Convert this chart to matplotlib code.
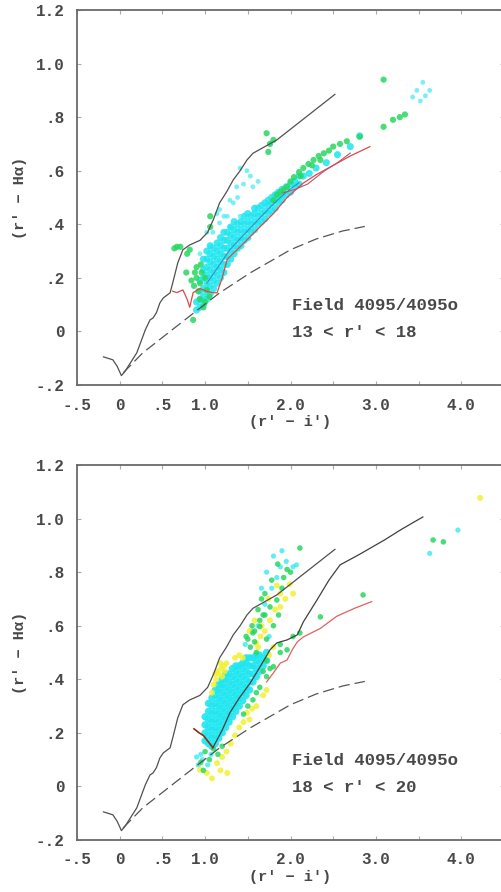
import matplotlib
matplotlib.use("Agg")
import matplotlib.pyplot as plt

plt.rcParams['font.family'] = ['Liberation Mono', 'DejaVu Sans Mono']

# ---------------- data ----------------
x_ticks = [-0.5, 0.0, 0.5, 1.0, 1.5, 2.0, 2.5, 3.0, 3.5, 4.0, 4.5]
x_tick_labels = ['-.5', '0', '.5', '1.0', '', '2.0', '', '3.0', '', '4.0', '']
y_ticks = [-0.2, 0.0, 0.2, 0.4, 0.6, 0.8, 1.0, 1.2]
y_tick_labels = ['-.2', '0', '.2', '.4', '.6', '.8', '1.0', '1.2']

# upper black locus (both panels)
black1_x = [-0.19, -0.15, -0.08, -0.03, 0.02, 0.06, 0.12, 0.20, 0.30, 0.355, 0.39, 0.43, 0.47, 0.51, 0.59,
            0.62, 0.68, 0.74, 0.82, 0.94, 1.03, 1.10, 1.17, 1.25, 1.33, 1.41, 1.49, 1.56, 1.70, 1.84,
            2.10, 2.30, 2.52]
black1_y = [-0.095, -0.099, -0.106, -0.13, -0.165, -0.15, -0.12, -0.08, 0.006, 0.043, 0.05, 0.07, 0.106,
            0.125, 0.144, 0.18, 0.256, 0.305, 0.323, 0.34, 0.37, 0.42, 0.48, 0.52, 0.566, 0.60, 0.64,
            0.665, 0.69, 0.715, 0.78, 0.83, 0.885]

# dashed reddening line (both panels)
dash_x = [0.04, 0.27, 0.55, 0.79, 1.17, 1.53, 2.00, 2.30, 2.61, 2.87]
dash_y = [-0.155, -0.08, -0.01, 0.05, 0.144, 0.219, 0.305, 0.345, 0.375, 0.392]

# top panel lines
red1_top_x = [0.62, 0.67, 0.74, 0.79, 0.82, 0.86, 0.94, 1.02, 1.08, 1.14, 1.20, 1.26, 1.41, 1.61, 1.80,
              1.96, 2.15, 2.30, 2.50, 2.70, 2.93]
red1_top_y = [0.15, 0.145, 0.155, 0.12, 0.09, 0.145, 0.16, 0.15, 0.145, 0.144, 0.20, 0.27, 0.316, 0.38,
              0.44, 0.50, 0.554, 0.585, 0.62, 0.655, 0.69]
red2_top_x = [1.91, 2.05, 2.20, 2.40, 2.55, 2.70]
red2_top_y = [0.517, 0.53, 0.55, 0.60, 0.63, 0.666]
blue_top_x = [1.02, 1.15, 1.29, 1.45, 1.60, 1.75, 1.88, 1.99, 2.10]
blue_top_y = [0.18, 0.24, 0.305, 0.36, 0.41, 0.46, 0.50, 0.53, 0.555]

# bottom panel lines
black2_x = [1.09, 1.20, 1.29, 1.40, 1.53, 1.65, 1.76, 1.84, 1.96, 2.08, 2.15, 2.23, 2.31, 2.45, 2.58,
            2.80, 3.10, 3.30, 3.55]
black2_y = [0.144, 0.21, 0.275, 0.33, 0.387, 0.45, 0.51, 0.536, 0.547, 0.566, 0.614, 0.655, 0.696, 0.77,
            0.827, 0.865, 0.92, 0.96, 1.006]
red_bot_x = [1.72, 1.80, 1.88, 1.96, 2.02, 2.08, 2.15, 2.35, 2.54, 2.75, 2.95]
red_bot_y = [0.39, 0.424, 0.46, 0.472, 0.51, 0.54, 0.558, 0.59, 0.635, 0.665, 0.69]
brown_bot_x = [0.87, 0.93, 0.98, 1.03, 1.09]
brown_bot_y = [0.215, 0.20, 0.19, 0.17, 0.145]

# top panel points: dense cyan band (column by column)
cyan_top_x = [0.90, 0.90,
              0.94, 0.94, 0.94, 0.94,
              0.98, 0.98, 0.98, 0.98, 0.98, 0.98,
              1.02, 1.02, 1.02, 1.02, 1.02, 1.02, 1.02,
              1.06, 1.06, 1.06, 1.06, 1.06, 1.06, 1.06,
              1.10, 1.10, 1.10, 1.10, 1.10, 1.10,
              1.14, 1.14, 1.14, 1.14, 1.14, 1.14,
              1.18, 1.18, 1.18, 1.18, 1.18, 1.18,
              1.22, 1.22, 1.22, 1.22, 1.22, 1.22,
              1.26, 1.26, 1.26, 1.26, 1.26,
              1.30, 1.30, 1.30, 1.30, 1.30,
              1.34, 1.34, 1.34, 1.34, 1.34,
              1.38, 1.38, 1.38, 1.38,
              1.42, 1.42, 1.42, 1.42,
              1.46, 1.46, 1.46, 1.46,
              1.50, 1.50, 1.50, 1.50,
              1.54, 1.54, 1.54,
              1.58, 1.58, 1.58, 1.58,
              1.62, 1.62, 1.62,
              1.66, 1.66, 1.66,
              1.70, 1.70, 1.70,
              1.74, 1.74, 1.74,
              1.78, 1.78, 1.78,
              1.82, 1.82, 1.82,
              1.86, 1.86, 1.86,
              1.90, 1.90, 1.90,
              1.95, 1.95, 2.00, 2.00, 2.05, 2.05, 2.10, 2.10,
              2.15, 2.22, 2.30, 2.42, 2.55, 2.70, 2.81]
cyan_top_y = [0.08, 0.11,
              0.09, 0.12, 0.15, 0.19,
              0.10, 0.13, 0.16, 0.20, 0.23, 0.27,
              0.12, 0.15, 0.18, 0.21, 0.24, 0.27, 0.30,
              0.14, 0.17, 0.20, 0.23, 0.26, 0.29, 0.32,
              0.16, 0.19, 0.22, 0.25, 0.28, 0.31,
              0.18, 0.21, 0.24, 0.27, 0.30, 0.33,
              0.20, 0.23, 0.26, 0.29, 0.32, 0.35,
              0.22, 0.25, 0.28, 0.31, 0.34, 0.37,
              0.25, 0.28, 0.31, 0.34, 0.37,
              0.27, 0.30, 0.33, 0.36, 0.39,
              0.29, 0.32, 0.35, 0.38, 0.41,
              0.31, 0.34, 0.37, 0.40,
              0.32, 0.35, 0.38, 0.41,
              0.34, 0.37, 0.40, 0.43,
              0.35, 0.38, 0.41, 0.44,
              0.37, 0.40, 0.43,
              0.38, 0.41, 0.44, 0.46,
              0.40, 0.43, 0.46,
              0.41, 0.44, 0.47,
              0.42, 0.45, 0.48,
              0.44, 0.47, 0.49,
              0.45, 0.48, 0.50,
              0.46, 0.49, 0.51,
              0.48, 0.50, 0.52,
              0.49, 0.51, 0.53,
              0.51, 0.54, 0.52, 0.55, 0.54, 0.56, 0.55, 0.58,
              0.58, 0.59, 0.61, 0.63, 0.66, 0.69, 0.73]
# top panel: scattered cyan points
cyan_top_sparse_x = [1.41, 1.49, 1.53, 1.56, 1.37, 1.45, 1.29, 1.33, 1.26, 1.17, 1.17, 1.09, 1.41, 1.29,
                     1.06, 1.02, 0.94, 1.76, 1.22, 1.38, 1.62, 1.14, 3.48, 3.55, 3.63, 3.52, 3.43, 3.58]
cyan_top_sparse_y = [0.61, 0.60, 0.58, 0.54, 0.54, 0.55, 0.49, 0.48, 0.43, 0.405, 0.455, 0.37, 0.43, 0.39,
                     0.316, 0.37, 0.29, 0.70, 0.43, 0.50, 0.56, 0.44, 0.90, 0.93, 0.90, 0.86, 0.875, 0.88]
green_top_x = [3.09, 3.09, 3.20, 3.28, 3.34, 2.81, 2.66, 2.58, 2.50, 2.45, 2.39, 2.33, 2.27, 2.21, 2.15,
               2.10, 2.04, 2.00, 1.96, 1.92, 1.88, 1.84, 1.80, 2.25, 2.12, 2.35, 1.76, 1.72, 1.80, 1.74,
               1.06, 0.71, 0.79, 0.64, 0.82, 0.67, 0.90, 0.94, 0.87, 1.02, 0.94, 0.98, 0.86, 0.90, 0.96,
               1.00, 0.92, 0.88, 1.05, 1.00, 0.84, 0.95, 1.06, 0.78]
green_top_y = [0.94, 0.764, 0.79, 0.80, 0.81, 0.727, 0.71, 0.70, 0.69, 0.675, 0.665, 0.655, 0.64, 0.625,
               0.61, 0.595, 0.576, 0.56, 0.54, 0.53, 0.52, 0.51, 0.49, 0.62, 0.58, 0.64, 0.70, 0.74, 0.715,
               0.67, 0.43, 0.316, 0.29, 0.31, 0.305, 0.316, 0.24, 0.18, 0.17, 0.155, 0.12, 0.09, 0.043,
               0.20, 0.22, 0.20, 0.15, 0.22, 0.13, 0.11, 0.19, 0.25, 0.39, 0.22]

# bottom panel points
cyan_bot_x = [1.00, 1.00, 1.00, 1.00,
              1.04, 1.04, 1.04, 1.04, 1.04, 1.04,
              1.08, 1.08, 1.08, 1.08, 1.08, 1.08, 1.08,
              1.12, 1.12, 1.12, 1.12, 1.12, 1.12, 1.12, 1.12,
              1.16, 1.16, 1.16, 1.16, 1.16, 1.16, 1.16, 1.16,
              1.20, 1.20, 1.20, 1.20, 1.20, 1.20, 1.20, 1.20,
              1.24, 1.24, 1.24, 1.24, 1.24, 1.24, 1.24, 1.24,
              1.28, 1.28, 1.28, 1.28, 1.28, 1.28, 1.28,
              1.32, 1.32, 1.32, 1.32, 1.32, 1.32, 1.32,
              1.36, 1.36, 1.36, 1.36, 1.36, 1.36, 1.36,
              1.40, 1.40, 1.40, 1.40, 1.40, 1.40,
              1.44, 1.44, 1.44, 1.44, 1.44, 1.44,
              1.48, 1.48, 1.48, 1.48, 1.48, 1.48,
              1.52, 1.52, 1.52, 1.52, 1.52,
              1.56, 1.56, 1.56, 1.56,
              1.60, 1.60, 1.60, 1.60,
              1.64, 1.64, 1.64,
              1.68, 1.68, 1.72, 1.72]
cyan_bot_y = [0.17, 0.20, 0.23, 0.26,
              0.16, 0.19, 0.22, 0.25, 0.28, 0.31,
              0.15, 0.18, 0.21, 0.24, 0.27, 0.30, 0.33,
              0.16, 0.19, 0.22, 0.25, 0.28, 0.31, 0.34, 0.36,
              0.18, 0.21, 0.24, 0.27, 0.30, 0.33, 0.36, 0.38,
              0.20, 0.23, 0.26, 0.29, 0.32, 0.35, 0.38, 0.40,
              0.22, 0.25, 0.28, 0.31, 0.34, 0.37, 0.40, 0.42,
              0.24, 0.27, 0.30, 0.33, 0.36, 0.39, 0.42,
              0.26, 0.29, 0.32, 0.35, 0.38, 0.41, 0.44,
              0.28, 0.31, 0.34, 0.37, 0.40, 0.43, 0.45,
              0.30, 0.33, 0.36, 0.39, 0.42, 0.45,
              0.32, 0.35, 0.38, 0.41, 0.44, 0.46,
              0.34, 0.37, 0.40, 0.43, 0.46, 0.48,
              0.36, 0.39, 0.42, 0.45, 0.48,
              0.39, 0.42, 0.45, 0.48,
              0.41, 0.44, 0.47, 0.49,
              0.43, 0.46, 0.49,
              0.45, 0.48, 0.47, 0.50]
cyan_bot_sparse_x = [0.95, 0.92, 0.97, 1.03, 0.90, 1.07, 1.70, 1.78, 1.84, 2.07, 1.95, 1.62, 1.55, 1.47,
                     3.63, 3.96, 1.75, 1.88, 1.80, 1.90, 1.72, 1.66, 2.03]
cyan_bot_sparse_y = [0.12, 0.08, 0.10, 0.08, 0.11, 0.12, 0.68, 0.74, 0.78, 0.827, 0.84, 0.60, 0.58, 0.53,
                     0.87, 0.957, 0.56, 0.82, 0.86, 0.88, 0.80, 0.74, 0.82]
yellow_bot_x = [1.10, 1.13, 1.16, 1.19, 1.22, 1.25, 1.14, 1.18, 1.08, 1.12, 1.44, 1.40, 1.35, 1.20, 1.23,
                1.49, 1.60, 1.55, 1.52, 1.45, 1.40, 1.35, 1.30, 1.25, 1.20,
                0.94, 1.14, 1.02, 1.26, 1.08, 1.18, 1.88, 1.99, 1.76, 1.60, 1.88,
                2.03, 1.70, 1.82, 1.65, 1.94, 1.80, 1.75, 4.22, 1.72, 1.68,
                1.58, 1.66, 1.74, 1.84, 1.52, 1.62]
yellow_bot_y = [0.38, 0.40, 0.42, 0.44, 0.45, 0.46, 0.43, 0.46, 0.35, 0.42, 0.48, 0.49, 0.48, 0.41, 0.43,
                0.275, 0.30, 0.29, 0.25, 0.24, 0.22, 0.19, 0.16, 0.13, 0.11,
                0.062, 0.087, 0.05, 0.05, 0.03, 0.06, 0.72, 0.755, 0.62, 0.535, 0.67,
                0.72, 0.58, 0.66, 0.56, 0.70, 0.52, 0.49, 1.077, 0.36, 0.34,
                0.62, 0.60, 0.70, 0.75, 0.58, 0.52]
green_bot_x = [1.64, 1.68, 1.76, 1.84, 1.90, 1.96, 2.11, 1.64, 1.56, 1.53, 1.80, 1.88, 2.03, 2.11, 1.72,
               1.64, 1.56, 1.88, 1.96, 1.68, 1.76, 1.60, 1.50, 1.45, 1.72, 1.80, 1.86, 1.72, 1.60, 1.48,
               1.58, 2.85, 2.35, 3.67, 3.79, 0.95, 1.00, 1.05, 0.98, 1.10, 1.20, 1.15, 1.92, 2.00,
               1.50, 1.55, 1.62, 1.70, 1.78, 1.85, 1.70, 1.58, 1.66]
green_bot_y = [0.62, 0.64, 0.67, 0.696, 0.74, 0.81, 0.89, 0.597, 0.573, 0.52, 0.447, 0.50, 0.56, 0.573,
               0.41, 0.37, 0.323, 0.53, 0.51, 0.43, 0.44, 0.35, 0.30, 0.27, 0.47, 0.60, 0.64, 0.55, 0.50,
               0.56, 0.58, 0.715, 0.633, 0.92, 0.913, 0.09, 0.13, 0.10, 0.06, 0.14, 0.15, 0.12, 0.78, 0.80,
               0.55, 0.60, 0.66, 0.72, 0.77, 0.83, 0.64, 0.54, 0.70]

panel_labels = [("Field 4095/4095o", "13 < r' < 18"), ("Field 4095/4095o", "18 < r' < 20")]

# ---------------- figure ----------------
fig = plt.figure(figsize=(5.02, 8.92), dpi=100)
W, H = 502.0, 892.0
ax_top = fig.add_axes([77 / W, 1 - 385 / H, 427 / W, 375 / H])
ax_bot = fig.add_axes([77 / W, 1 - 840 / H, 427 / W, 375 / H])

CYAN = '#1ee6f0'
GREEN = '#28d860'
YELLOW = '#f2f030'
TXT = '#484848'


def style(ax, labels):
    ax.set_xlim(-0.5, 4.5)
    ax.set_ylim(-0.2, 1.2)
    ax.set_xticks(x_ticks)
    ax.set_xticklabels(x_tick_labels)
    ax.set_yticks(y_ticks)
    ax.set_yticklabels(y_tick_labels)
    ax.tick_params(direction='in', length=3, width=0.8, color='#aaaaaa', top=True, right=True,
                   labelsize=11.5, labelcolor=TXT, pad=9)
    for lab in ax.get_xticklabels() + ax.get_yticklabels():
        lab.set_fontweight('bold')
    for s in ax.spines.values():
        s.set_color('#6a6a6a')
        s.set_linewidth(1.3)
    ax.set_xlabel("(r' − i')", fontsize=11, color=TXT, labelpad=2, fontweight='bold')
    ax.set_ylabel("(r' − Hα)", fontsize=11, color=TXT, labelpad=6, fontweight='bold')
    ax.text(0.503, 0.213, labels[0], transform=ax.transAxes, fontsize=12.5, color=TXT, va='center',
            fontweight='bold')
    ax.text(0.503, 0.141, labels[1], transform=ax.transAxes, fontsize=12.5, color=TXT, va='center',
            fontweight='bold')


def common_lines(ax):
    ax.plot(black1_x, black1_y, color='#505050', lw=0.9, zorder=5)
    ln, = ax.plot(dash_x, dash_y, color='#555555', lw=0.9, zorder=5)
    ln.set_dashes([9, 4])


# top panel
ax_top.scatter(cyan_top_x, cyan_top_y, s=26, marker='o', color=CYAN, edgecolors='none', alpha=0.85, zorder=2)
ax_top.scatter(cyan_top_sparse_x, cyan_top_sparse_y, s=12, marker='o', color=CYAN, edgecolors='none',
               alpha=0.6, zorder=2)
ax_top.scatter(green_top_x, green_top_y, s=20, marker='o', color=GREEN, edgecolors='none', alpha=0.85, zorder=3)
ax_top.plot(blue_top_x, blue_top_y, color='#3a6aa8', lw=0.8, alpha=0.7, zorder=4)
ax_top.plot(red1_top_x, red1_top_y, color='#e04848', lw=0.9, zorder=5)
ax_top.plot(red2_top_x, red2_top_y, color='#c05070', lw=0.8, zorder=5)
common_lines(ax_top)
style(ax_top, panel_labels[0])

# bottom panel
ax_bot.scatter(cyan_bot_x, cyan_bot_y, s=28, marker='o', color=CYAN, edgecolors='none', alpha=0.9, zorder=2)
ax_bot.scatter(cyan_bot_sparse_x, cyan_bot_sparse_y, s=14, marker='o', color=CYAN, edgecolors='none',
               alpha=0.7, zorder=2)
ax_bot.scatter(yellow_bot_x, yellow_bot_y, s=18, marker='o', color=YELLOW, edgecolors='none', alpha=0.85, zorder=3)
ax_bot.scatter(green_bot_x, green_bot_y, s=16, marker='o', color=GREEN, edgecolors='none', alpha=0.85, zorder=3)
ax_bot.plot(black2_x, black2_y, color='#404040', lw=0.9, zorder=5)
ax_bot.plot(red_bot_x, red_bot_y, color='#e06060', lw=0.9, zorder=5)
ax_bot.plot(brown_bot_x, brown_bot_y, color='#8a3010', lw=1.2, zorder=5)
common_lines(ax_bot)
style(ax_bot, panel_labels[1])

fig.savefig('out.png', dpi=100)
